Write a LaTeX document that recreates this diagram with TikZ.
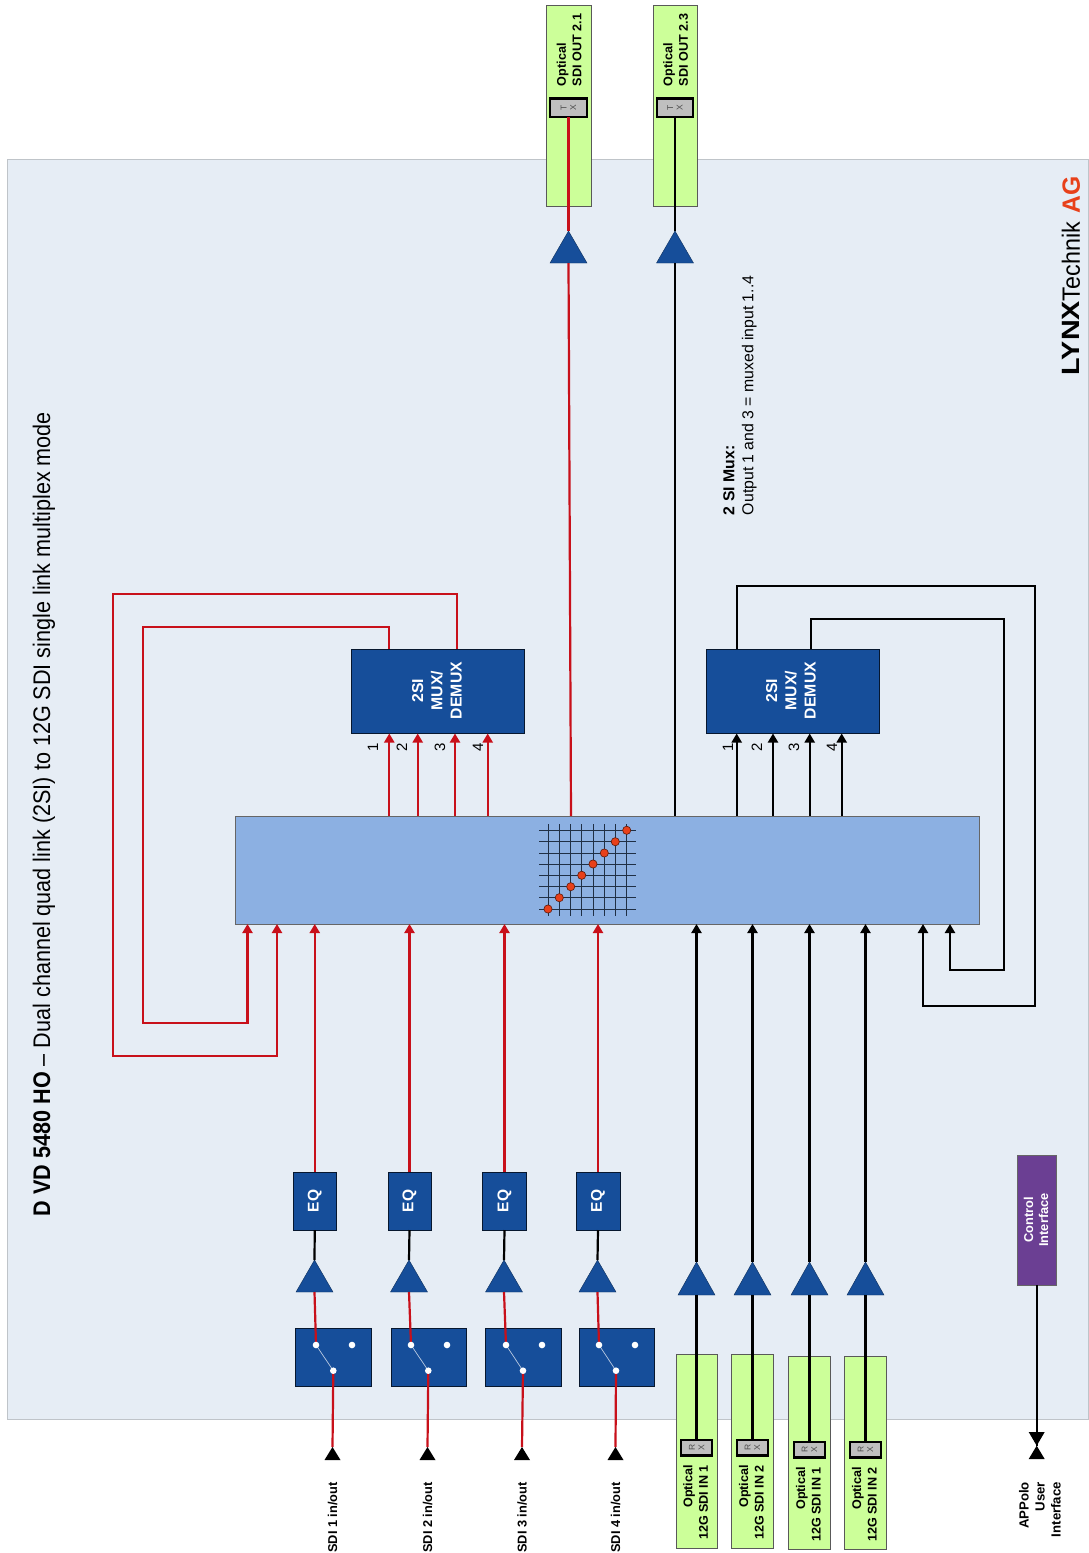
\documentclass[tikz,border=0pt]{standalone}
\usepackage{fontspec}
\usepackage{graphicx}
\setmainfont{Liberation Sans}
\usetikzlibrary{arrows.meta,calc}
\definecolor{panelbg}{HTML}{E6EDF5}
\definecolor{panelln}{HTML}{BFC4C9}
\definecolor{optgreen}{HTML}{CCFF99}
\definecolor{blockblue}{HTML}{164E9A}
\definecolor{xbarblue}{HTML}{8CB0E2}
\definecolor{sigred}{HTML}{C8101A}
\definecolor{dotred}{HTML}{E8401A}
\definecolor{ctlpurple}{HTML}{6B3F93}
\definecolor{gridln}{HTML}{1F2F45}
\newcommand{\fs}[2]{\fontsize{#1}{#2}\selectfont}
\newcommand{\pbox}[6]{\node[#6,minimum width={(#4)-(#2)},minimum height={(#5)-(#3)}] (#1) at ({((#2)+(#4))/2},{((#3)+(#5))/2}) {};}
\newcommand{\uptri}[5]{%
  \coordinate (#1a) at ({#2},#3);
  \coordinate (#1b) at ({#2},#4);
  \fill[#5] (#1a) -- ($(#1b)+(-18.5,0)$) -- ($(#1b)+(18.5,0)$) -- cycle;}
\tikzset{
  x=1pt,y=-1pt,
  boxbase/.style={rectangle,inner sep=0pt,outer sep=0pt},
  optbox/.style={boxbase,draw=black!65,line width=0.9pt,fill=optgreen},
  portbox/.style={boxbase,draw=black,line width=2.2pt,fill=black!25},
  blockbox/.style={boxbase,draw=black!70!blockblue,line width=0.7pt,fill=blockblue},
  xbarbox/.style={boxbase,draw=black!60,line width=0.9pt,fill=xbarblue},
  ctlbox/.style={boxbase,draw=black!60,line width=0.7pt,fill=ctlpurple},
  tri/.style={fill=blockblue,draw=black!40!blockblue,line width=0.4pt},
  redl/.style={draw=sigred,line width=2.2pt},
  blkl/.style={draw=black,line width=2.2pt},
  redarr/.style={redl,-{Triangle[length=9pt,width=10pt]}},
  blkarr/.style={blkl,-{Triangle[length=9pt,width=10pt]}},
  rlabel/.style={rotate=90,inner sep=0pt,outer sep=0pt,text=black},
  optlbl/.style={rlabel,font=\fs{12.6}{15.5}\bfseries},
  wlbl/.style={rlabel,text=white,font=\bfseries},
}
\begin{document}
\begin{tikzpicture}
\useasboundingbox (0,0) rectangle (1088,1553);
% panel
\pbox{panel}{7}{159}{1088}{1419}{boxbase,draw=panelln,line width=1pt,fill=panelbg}
% title / logo / note
\node[rlabel,anchor=west] (title) at (44,1216) {\resizebox{804pt}{\height}{\fs{24}{28}\textbf{D VD 5480 HO} -- Dual channel quad link (2SI) to 12G SDI single link multiplex mode}};
\node[rlabel,anchor=west] (logo) at (1071,375) {\fs{25}{28}\resizebox{74pt}{\height}{\textbf{LYNX}}\resizebox{79pt}{\height}{Technik}\hspace{9pt}\resizebox{37pt}{\height}{\textcolor{dotred}{\textbf{AG}}}};
\node[rlabel,anchor=west,align=left,font=\fs{15.8}{19}] (note) at (740,515) {\textbf{2 SI Mux:}\\Output 1 and 3 = muxed input 1..4};
% crossbar
\pbox{xbar}{235}{816}{979}{924}{xbarbox}
\foreach \gx in {548,559.3,570.7,581.7,593,604.3,615.3,626.7}
  \draw[gridln,line width=0.9pt] (\gx,824) -- (\gx,916);
\foreach \gy in {830.3,841.7,853,864,875.3,886.7,897.7,909}
  \draw[gridln,line width=0.9pt] (539,\gy) -- (636,\gy);
\foreach \dx/\dy in {548/909,559.3/897.7,570.7/886.7,581.7/875.3,593/864,604.3/853,615.3/841.7,626.7/830.3}
  \fill[dotred,draw=black!60!dotred,line width=0.6pt] (\dx,\dy) circle (4.1);
% output side
\coordinate (olbase) at (0,86);
\foreach \n/\xa/\xb/\txt in {1/546/591/2.1,2/653/697/2.3}{
  \pbox{o\n}{\xa}{5}{\xb}{206}{optbox}
  \pbox{tx\n}{\xa+4}{98.5}{\xb-4}{117}{portbox}
  \node[rlabel,align=center,font=\fs{8.5}{9.5},text=black!70] (txl\n) at (tx\n) {T\\X};
  \node[optlbl,anchor=west,align=left] (ol\n) at ($(tx\n.south |- olbase)+(0.5,0)$) {Optical\\SDI OUT \txt};
  \uptri{ot\n}{(\xa+\xb)/2}{231}{263}{tri}
}
\draw[redl] (tx1.south) -- (ot1a);
\draw[blkl] (tx2.south) -- (ot2a);
\coordinate (xbrt) at (571,816);
\draw[redl] (ot1b) -- (xbrt);
\draw[blkl] (ot2b) -- (ot2b |- xbar.north);
% mux blocks
\pbox{muxa}{351.5}{649}{524}{733.5}{blockbox}
\pbox{muxb}{706}{649}{879}{733.5}{blockbox}
\node[wlbl,align=center,font=\fs{15.8}{19.3}\bfseries] (muxat) at (437,690.5) {2SI\\MUX/\\DEMUX};
\node[wlbl,align=center,font=\fs{15.8}{19.3}\bfseries] (muxbt) at (791,690.5) {2SI\\MUX/\\DEMUX};
\foreach \i/\ax/\lx in {1/389.3/373,2/417.7/402,3/455/440,4/487.7/478}{
  \coordinate (ma\i) at (\ax,733.5);
  \draw[redarr] (ma\i |- xbar.north) -- (ma\i);
  \node[rlabel,font=\fs{15}{15}] (mal\i) at (\lx,747) {\i};
}
\foreach \i/\ax/\lx in {1/736.7/728,2/773/757,3/809.7/794,4/841.7/832}{
  \coordinate (mb\i) at (\ax,733.5);
  \draw[blkarr] (mb\i |- xbar.north) -- (mb\i);
  \node[rlabel,font=\fs{15}{15}] (mbl\i) at (\lx,747) {\i};
}
% loops
\coordinate (lao) at (456.7,649);
\coordinate (lai) at (389.3,649);
\coordinate (lae) at (277,924);
\coordinate (laf) at (247.5,924);
\draw[redarr] (lao) -- (456.7,594) -- (113,594) -- (113,1056) -- (277,1056) -- (lae);
\draw[redarr] (lai) -- (389.3,627) -- (143,627) -- (143,1023) -- (247.5,1023) -- (laf);
\coordinate (lbo) at (736.7,649);
\coordinate (lbi) at (811,649);
\coordinate (lbe) at (923,924);
\coordinate (lbf) at (950,924);
\draw[blkarr] (lbo) -- (736.7,586) -- (1035,586) -- (1035,1006) -- (923,1006) -- (lbe);
\draw[blkarr] (lbi) -- (811,619) -- (1004,619) -- (1004,970) -- (950,970) -- (lbf);
% SDI inputs
\foreach \i/\cx/\xa/\xb/\swl/\swr/\ta/\tb/\tc/\pin in {
  1/314.5/293/336.5/295.7/371/316/352/333.3/332.5,
  2/409/388/431/391/466/411/447/428.3/427.5,
  3/504/482.5/526.5/485.7/561/506/542/523/522,
  4/597.5/576/620/579/654/599/635/616/615.5}{
  \pbox{eq\i}{\xa}{1172}{\xb}{1230}{blockbox}
  \node[wlbl,font=\fs{15.5}{16}\bfseries] (eqt\i) at (eq\i) {EQ};
  \uptri{it\i}{\cx}{1260}{1292}{tri}
  \pbox{sw\i}{\swl}{1328}{\swr}{1386}{blockbox}
  \coordinate (swa\i) at (\ta,1345);
  \coordinate (swb\i) at (\tb,1345);
  \coordinate (swc\i) at (\tc,1370.7);
  \coordinate (pin\i) at (\pin,1447);
  \draw[white!70!blockblue,line width=0.7pt] (swa\i) -- (swc\i);
  \draw[redarr] (eq\i.north) -- (eq\i.north |- xbar.south);
  \draw[blkl] (eq\i.south) -- (it\i a);
  \draw[redl] (it\i b) -- (swa\i);
  \draw[redl] (swc\i) -- (pin\i);
  \fill[white] (swa\i) circle (3.3);
  \fill[white] (swb\i) circle (3.3);
  \fill[white] (swc\i) circle (3.3);
  \fill[black] (pin\i) -- ++(-8,13) -- ++(16,0) -- cycle;
  \node[rlabel,font=\fs{12.8}{14}\bfseries] (sdil\i) at (\pin,1517.5) {SDI \i{} in/out};
}
% optical inputs
\foreach \i/\xa/\ya/\yb/\py/\n/\txt in {
  1/676/1354/1548/1440/1/696.5,
  2/731.7/1354/1548/1440/2/752.5,
  3/788.7/1356/1549.5/1442/1/809.5,
  4/844.7/1356/1549.5/1442/2/865.5}{
  \pbox{ib\i}{\xa}{\ya}{\xa+41.5}{\yb}{optbox}
  \pbox{rx\i}{\xa+5.2}{\py}{\xa+36.2}{\py+15.5}{portbox}
  \node[rlabel,align=center,font=\fs{8.5}{9.5},text=black!70] (rxl\i) at (rx\i) {R\\X};
  \node[optlbl,anchor=east,align=right] (il\i) at ($(rx\i.north)+(-1,25)$) {Optical\\12G SDI IN \n};
  \uptri{in\i}{\txt}{1262}{1295}{tri}
  \draw[blkl] (rx\i.north -| in\i b) -- (in\i b);
  \draw[blkarr] (in\i a) -- (in\i a |- xbar.south);
}
% control interface
\pbox{ctl}{1017}{1155}{1056}{1285}{ctlbox}
\node[wlbl,align=center,font=\fs{12.8}{15}\bfseries] (ctlt) at (1036,1220) {Control\\Interface};
\coordinate (bow) at (1036.7,1445.7);
\draw[blkl] (ctl.south -| bow) -- (bow);
\fill[black] (bow) -- ++(-8,-13.7) -- ++(16,0) -- cycle;
\fill[black] (bow) -- ++(-8,13.3) -- ++(16,0) -- cycle;
\node[rlabel,anchor=east,align=right,font=\fs{13.2}{16}\bfseries] (apl) at (1040,1482) {APPolo\\User\\Interface};
\end{tikzpicture}
\end{document}
